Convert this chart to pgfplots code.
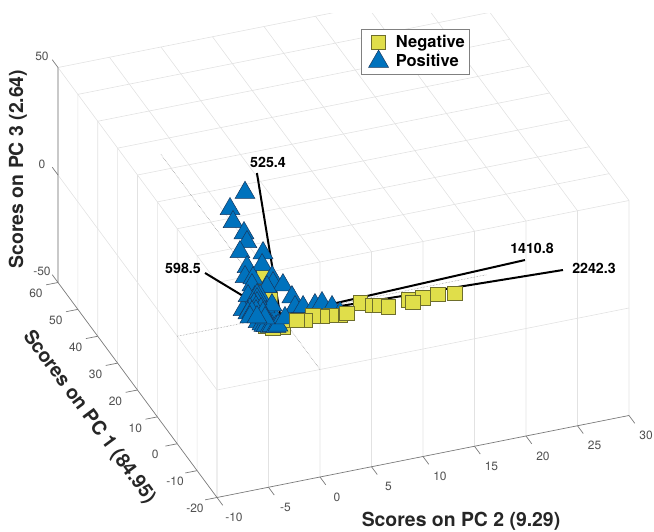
\documentclass[border=0pt]{standalone}
\usepackage{fontspec}
\setmainfont{TeX Gyre Heros}
\usepackage{pgfplots}
\pgfplotsset{compat=1.18}
\definecolor{myyellow}{HTML}{E0DE4A}
\definecolor{myyedge}{HTML}{6E6E2C}
\definecolor{myblue}{HTML}{0072BD}
\definecolor{mybedge}{HTML}{17375E}
\definecolor{gridc}{HTML}{E2E2E2}
\definecolor{axc}{HTML}{7A7A7A}
\definecolor{tickc}{HTML}{505050}
\begin{document}
\begin{tikzpicture}
\begin{axis}[
  x={(10.3pt,2.05pt)},y={(-1.9875pt,2.6875pt)},z={(0pt,2.15pt)},
  xmin=-10,xmax=30,ymin=-20,ymax=60,zmin=-50,zmax=50,
  xtick={-10,-5,...,30},ytick={-20,-10,...,60},ztick={-50,0,50},
  grid=none,
  axis line style={draw=none},
  major tick length=0pt,
  tick style={draw=none},
  /pgf/number format/assume math mode=true,
  tick label style={font=\fontsize{12}{12}\selectfont,text=tickc,anchor=center},
  xticklabel style={xshift=17pt,yshift=-20pt},
  yticklabel style={xshift=-22pt,yshift=-11pt},
  zticklabel style={xshift=-16pt,yshift=11pt},
  clip=false,
  legend cell align=left,
  legend image code/.code={\path (-15pt,0pt) (15pt,0pt);
    \draw[mark repeat=2,mark phase=2,#1] plot coordinates {(-1pt,0pt) (0pt,0pt) (1pt,0pt)};},
  legend style={at={(axis cs:24.78,87.8,0)},anchor=north west,draw=gray,line width=0.6pt,
    font=\fontsize{16.5}{18}\selectfont\bfseries,row sep=-1pt,inner xsep=2pt,inner ysep=4pt},
]
% grid on the three back planes
\pgfplotsinvokeforeach{-10,-5,...,30}{
  \addplot3[forget plot,no marks,gridc,line width=0.6pt] coordinates {(#1,-20,-50) (#1,-20,50) (#1,60,50)};
}
\pgfplotsinvokeforeach{-20,-10,...,60}{
  \addplot3[forget plot,no marks,gridc,line width=0.6pt] coordinates {(-10,#1,-50) (-10,#1,50) (30,#1,50)};
}
\pgfplotsinvokeforeach{0}{
  \addplot3[forget plot,no marks,gridc,line width=0.6pt] coordinates {(-10,60,#1) (-10,-20,#1) (30,-20,#1)};
}
% axis lines and ticks
\addplot3[forget plot,no marks,axc,line width=0.7pt] coordinates {(30,-20,-50) (-10,-20,-50) (-10,60,-50) (-10,60,50)};
\pgfplotsinvokeforeach{-10,-5,...,30}{
  \addplot3[forget plot,no marks,axc,line width=0.7pt] coordinates {(#1,-20,-50) (#1,-22.9,-50)};
}
\pgfplotsinvokeforeach{-20,-10,...,60}{
  \addplot3[forget plot,no marks,axc,line width=0.7pt] coordinates {(-10,#1,-50) (-11.15,#1,-50)};
}
\pgfplotsinvokeforeach{-50,0,50}{
  \addplot3[forget plot,no marks,axc,line width=0.7pt] coordinates {(-10,60,#1) (-10,62.9,#1)};
}
% thin crosshair through the origin
\addplot3[forget plot,no marks,gray,densely dotted,line width=0.5pt] coordinates {(-10,0,0) (20,0,0)};
\addplot3[forget plot,no marks,gray,densely dotted,line width=0.5pt] coordinates {(0,-20,0) (0,60,0)};
\addplot3[only marks,mark=square*,mark size=7.2pt,mark options={fill=myyellow,draw=myyedge,line width=0.6pt}]
 coordinates {(0.97,13.68,0) (0.12,5.77,0) (16.21,-3.90,0) (-0.47,-3.83,0) (-1.93,-2.34,0) (-1.38,-3.50,0) (0.56,-2.01,0)};
\addlegendentry{Negative}
\addplot3[only marks,mark=triangle*,mark size=11.5pt,mark options={fill=myblue,draw=mybedge,line width=0.5pt}]
 coordinates {
 (-2.27,-0.59,0) (-2.06,-1.50,0) (-1.62,-2.21,0) (-1.11,-2.60,0) (-1.31,-0.59,0) (-0.58,-0.39,0)
 (-1.99,-2.11,0) (-1.85,-2.40,0) (-1.54,-2.83,0) (-1.34,-2.79,0) (-1.03,-3.22,0) (-0.80,-3.01,0)
 (4.72,42.19,0) (2.43,37.87,0) (1.87,33.46,0) (2.11,29.18,0) (1.80,26.07,0) (0.58,23.28,0)
 (2.47,21.46,0) (0.24,17.96,0) (1.64,17.64,0) (-0.55,14.85,0) (0.05,14.00,0) (1.73,13.10,0)
 (1.44,11.09,0) (2.15,9.79,0) (0.68,10.19,0) (2.16,5.32,0) (1.80,1.89,0) (-0.70,10.11,0)
 (-0.47,11.79,0) (-0.97,7.71,0) (-1.70,6.41,0) (-1.08,5.58,0) (-2.26,4.99,0) (-0.74,3.82,0) (-2.79,4.27,0)
 (-0.47,7.72,0) (-1.49,8.49,0) (-0.03,4.02,0)
 (-0.67,8.23,0) (-0.92,6.93,0) (-1.17,5.64,0) (-1.48,5.50,0) (-1.50,4.41,0) (-2.14,4.14,0)
 (-1.21,3.43,0) (-1.75,3.11,0) (-2.56,2.97,0)
 (-2.16,3.04,0) (-1.29,2.00,0) (-2.64,1.54,0) (-1.43,0.25,0)
 (2.48,1.37,0) (3.61,1.25,0) (4.33,1.44,0) (4.93,-0.50,0) (5.23,-2.97,0) (0.26,-1.04,0)
 (-2.05,1.09,0)};
\addlegendentry{Positive}
\addplot3[forget plot,only marks,mark=square*,mark size=7.2pt,mark options={fill=myyellow,draw=myyedge,line width=0.6pt}]
 coordinates {(14.71,-3.13,0) (13.19,-3.45,0) (11.80,-3.14,0) (12.09,-4.11,0) (7.55,-1.01,0)
 (8.52,-2.50,0) (9.11,-2.95,0) (9.67,-4.12,0) (5.11,-3.62,0) (5.82,-3.42,0) (4.34,-3.04,0)
 (3.51,-2.78,0) (2.75,-2.19,0) (1.82,-2.98,0) (1.15,-2.46,0)};
% loading lines
\addplot3[forget plot,no marks,black,line width=2pt] coordinates {(0,0,0) (6.96,47.80,0)};
\addplot3[forget plot,no marks,black,line width=2pt] coordinates {(-1.91,8.81,0) (-3.69,18.73,0)};
\addplot3[forget plot,no marks,black,line width=2pt] coordinates {(0,0,0) (24.20,2.28,0)};
\addplot3[forget plot,no marks,black,line width=2pt] coordinates {(0,0,0) (26.79,-3.41,0)};
\coordinate (O) at (axis cs:0,0,0);
\end{axis}
\fill[white] ([shift={(-280.25pt,302.75pt)}]O) rectangle ([shift={(373.75pt,325pt)}]O);
\begin{scope}[shift={(O)},every node/.style={font=\fontsize{14.2}{15}\selectfont\bfseries,inner sep=0pt}]
\node at (-12.25pt,153.75pt) {525.4};
\node at (-97.25pt,47.75pt) {598.5};
\node at (251.75pt,67.75pt) {1410.8};
\node at (313.75pt,47.75pt) {2242.3};
\node[font=\fontsize{19.4}{20}\selectfont\bfseries,text=black!85] at (180.75pt,-205.25pt) {Scores on PC 2 (9.29)};
\node[font=\fontsize{19.4}{20}\selectfont\bfseries,text=black!85,rotate=90] at (-262.25pt,146.75pt) {Scores on PC 3 (2.64)};
\node[font=\fontsize{19.4}{20}\selectfont\bfseries,text=black!85,rotate=-53.5] at (-191.25pt,-101.25pt) {Scores on PC 1 (84.95)};
\end{scope}
\pgfresetboundingbox
\path[use as bounding box] ([shift={(-280.25pt,-215.25pt)}]O) rectangle ([shift={(373.75pt,315.75pt)}]O);
\end{tikzpicture}
\end{document}
